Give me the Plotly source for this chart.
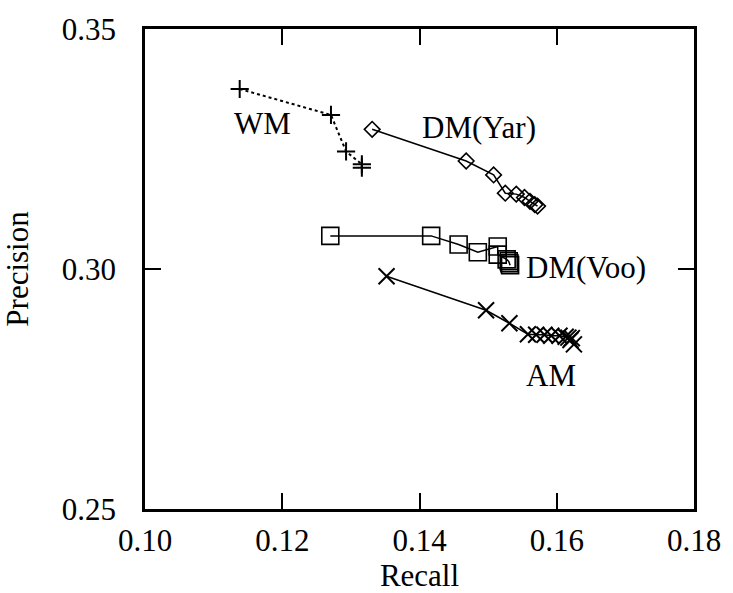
import plotly.graph_objects as go

# Data (Recall, Precision)
wm_recall = [0.1138, 0.1271, 0.1293, 0.1316, 0.1316]
wm_precision = [0.3375, 0.3321, 0.3245, 0.3218, 0.3211]

yar_recall = [0.1331, 0.1468, 0.1508, 0.1525, 0.1541, 0.1553, 0.1561, 0.1568, 0.1572]
yar_precision = [0.3291, 0.3225, 0.3196, 0.3158, 0.3156, 0.3149, 0.3141, 0.3134, 0.3131]

voo_recall = [0.1270, 0.1417, 0.1457, 0.1485, 0.1514, 0.1514, 0.1527, 0.1530, 0.1531, 0.1532]
voo_precision = [0.3069, 0.3069, 0.3051, 0.3035, 0.3047, 0.3030, 0.3020, 0.3016, 0.3012, 0.3008]

am_recall = [0.1352, 0.1497, 0.1531, 0.1558, 0.1570, 0.1582, 0.1592, 0.1604, 0.1613, 0.1617, 0.1620, 0.1622, 0.1625]
am_precision = [0.2985, 0.2914, 0.2887, 0.2864, 0.2863, 0.2863, 0.2861, 0.2861, 0.2859, 0.2857, 0.2852, 0.2856, 0.2843]

labels = ["WM", "DM(Yar)", "DM(Voo)", "AM"]
label_x = [0.1171, 0.1486, 0.1642, 0.1592]
label_y = [0.3303, 0.3295, 0.3003, 0.2779]

x_ticks = [0.10, 0.12, 0.14, 0.16, 0.18]
y_ticks = [0.25, 0.30, 0.35]

FONT = "Liberation Serif, Times New Roman, serif"
FS = 31

fig = go.Figure()
fig.add_trace(go.Scatter(
    x=wm_recall, y=wm_precision, mode="lines+markers",
    line=dict(color="black", width=2, dash="dot"),
    marker=dict(symbol="cross-thin-open", size=13, color="black",
                line=dict(color="black", width=2))))
fig.add_trace(go.Scatter(
    x=yar_recall, y=yar_precision, mode="lines+markers",
    line=dict(color="black", width=1.5),
    marker=dict(symbol="diamond-open", size=12, color="black",
                line=dict(color="black", width=1.6))))
fig.add_trace(go.Scatter(
    x=voo_recall, y=voo_precision, mode="lines+markers",
    line=dict(color="black", width=1.5),
    marker=dict(symbol="square-open", size=17, color="black",
                line=dict(color="black", width=1.6))))
fig.add_trace(go.Scatter(
    x=am_recall, y=am_precision, mode="lines+markers",
    line=dict(color="black", width=1.5),
    marker=dict(symbol="x-thin-open", size=16, color="black",
                line=dict(color="black", width=2))))

for t, lx, ly in zip(labels, label_x, label_y):
    fig.add_annotation(x=lx, y=ly, text=t, showarrow=False,
                       font=dict(family=FONT, size=FS, color="black"))

axis_common = dict(
    showline=True, linecolor="black", linewidth=2.5, mirror="allticks",
    ticks="inside", ticklen=16, tickwidth=2, tickcolor="black",
    showgrid=False, zeroline=False,
    tickfont=dict(family=FONT, size=FS, color="black"),
    tickformat=".2f",
)

fig.update_xaxes(range=[0.10, 0.18], tickvals=x_ticks,
                 title=dict(text="Recall", font=dict(family=FONT, size=FS, color="black"), standoff=0),
                 ticklabelstandoff=2, **axis_common)
fig.update_yaxes(range=[0.25, 0.35], tickvals=y_ticks,
                 title=dict(text="Precision", font=dict(family=FONT, size=FS, color="black"), standoff=28),
                 ticklabelstandoff=20, **axis_common)

fig.update_layout(
    width=733, height=593,
    margin=dict(l=144, r=31, t=22, b=84),
    paper_bgcolor="white", plot_bgcolor="white",
    showlegend=False,
)

fig.write_html("out.html")
